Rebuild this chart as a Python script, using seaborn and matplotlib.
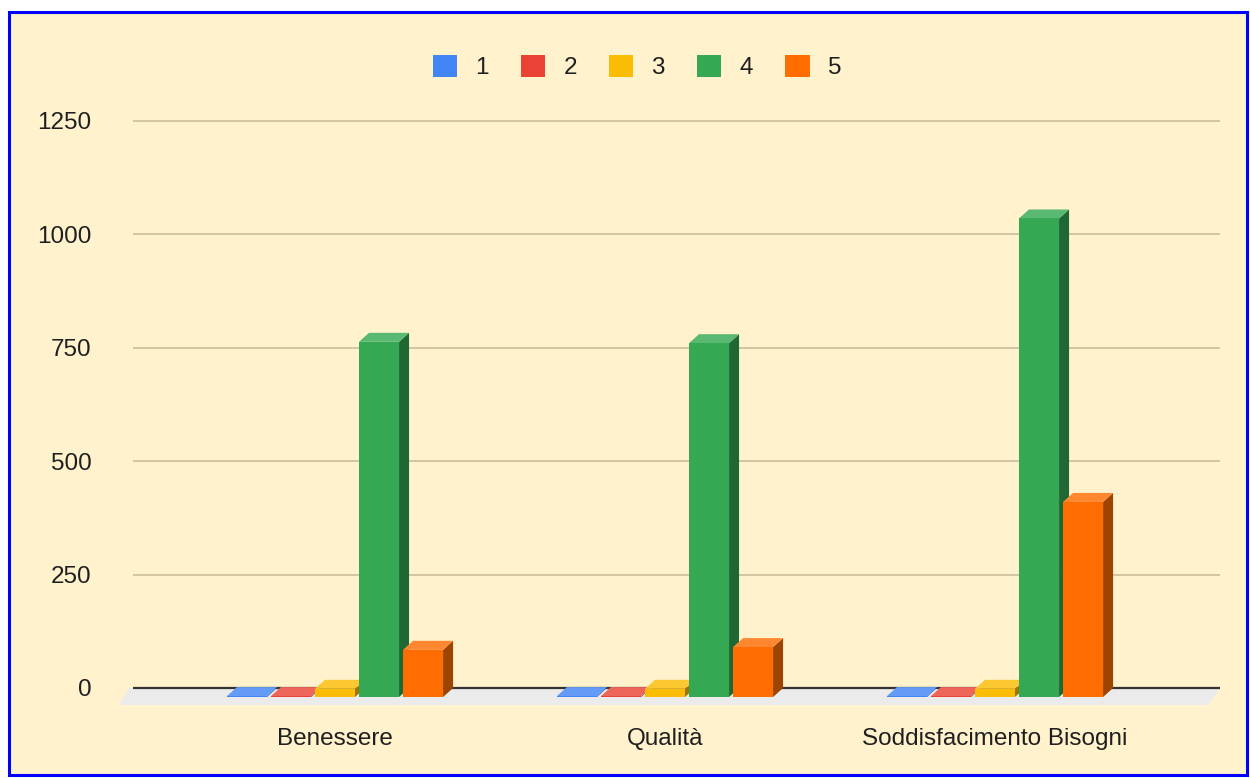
import numpy as np
import pandas as pd
import matplotlib
matplotlib.use("Agg")
import matplotlib.pyplot as plt
import seaborn as sns
from matplotlib.patches import Polygon, Rectangle, Patch
from matplotlib.transforms import ScaledTranslation, IdentityTransform
from matplotlib.colors import to_rgb

# ---------------- data ----------------
categories = ["Benessere", "Qualità", "Soddisfacimento Bisogni"]
series = ["1", "2", "3", "4", "5"]
values_1 = [2, 2, 2]
values_2 = [2, 2, 2]
values_3 = [18, 18, 18]
values_4 = [783, 780, 1055]
values_5 = [104, 110, 430]
yticks = [0, 250, 500, 750, 1000, 1250]
colors = ["#4285F4", "#EA4335", "#FBBC04", "#34A853", "#FF6D01"]

all_vals = [values_1, values_2, values_3, values_4, values_5]
rows = []
for s, vals in zip(series, all_vals):
    for c, v in zip(categories, vals):
        rows.append({"categoria": c, "voto": s, "valore": v})
df = pd.DataFrame(rows)

# ---------------- style ----------------
sns.set_style("white")
plt.rcParams["font.family"] = ["Liberation Sans", "DejaVu Sans"]
BG = "#FFF2CC"
TXT = "#1F1F1F"
FS = 17.5

W, H = 1250, 778
fig = plt.figure(figsize=(W / 100, H / 100), dpi=100, facecolor="white")

# cream panel with blue frame
fig.patches.append(Rectangle((9 / W, 3 / H), 1238 / W, 763 / H, transform=fig.transFigure,
                             facecolor=BG, edgecolor="#0000FF", linewidth=2.2, zorder=-5))

# axes geometry (pixels from top)
px_per_unit = 567 / 1250.0
ylo, yhi = -40, 1262
ax_top_px = 121 - (yhi - 1250) * px_per_unit
ax_bot_px = 688 + (0 - ylo) * px_per_unit
ax_left_px, ax_right_px = 133, 1220
ax = fig.add_axes([ax_left_px / W, 1 - ax_bot_px / H,
                   (ax_right_px - ax_left_px) / W, (ax_bot_px - ax_top_px) / H])
ax.set_facecolor("none")
ax.set_zorder(2)

sns.barplot(data=df, x="categoria", y="valore", hue="voto", order=categories,
            hue_order=series, palette=colors, width=0.667, gap=0.09,
            saturation=1, legend=False, ax=ax, linewidth=0, errorbar=None)

unit_px = 330.0
xl0 = -0.5 - (180 - ax_left_px) / unit_px
xl1 = xl0 + (ax_right_px - ax_left_px) / unit_px
ax.set_xlim(xl0, xl1)
ax.set_ylim(ylo, yhi)
ax.set_yticks(yticks)
ax.set_yticklabels([str(t) for t in yticks])
ax.set_xlabel("")
ax.set_ylabel("")
for sp in ax.spines.values():
    sp.set_visible(False)
ax.tick_params(axis="both", length=0, labelsize=FS, colors=TXT)
ax.tick_params(axis="y", pad=30)
ax.tick_params(axis="x", pad=16)

# gridlines on the back plane
for t in yticks:
    if t == 0:
        ax.axhline(t, color="#333333", lw=1.6, zorder=2)
    else:
        ax.axhline(t, color="#CFC2A0", lw=1.3, zorder=1)

fig.canvas.draw()

D, E = 10.0, 9.0   # depth offsets (px)
front_shift = ScaledTranslation(-D / 100, -E / 100, fig.dpi_scale_trans)

# floor
(fx_l, fy0) = ax.transData.transform((xl0, 0))
(fx_r, _) = ax.transData.transform((xl1, 0))
floor = Polygon([(fx_l - 4, fy0), (fx_r, fy0), (fx_r - 12, fy0 - 17), (fx_l - 14, fy0 - 17)],
                closed=True, transform=IdentityTransform(), facecolor="#EBEBEB",
                edgecolor="none", zorder=1.5, clip_on=False)
ax.add_artist(floor)

def shade(c, f):
    c = np.array(to_rgb(c))
    return tuple(np.clip(c * f, 0, 1))

def tint(c, f):
    c = np.array(to_rgb(c))
    return tuple(c + (1 - c) * f)

bars = sorted([p for p in ax.patches if isinstance(p, Rectangle)], key=lambda p: p.get_x())
for i, p in enumerate(bars):
    x, w, h = p.get_x(), p.get_width(), p.get_height()
    fc = p.get_facecolor()
    bx0, by0 = ax.transData.transform((x, 0))
    bx1, by1 = ax.transData.transform((x + w, h))
    fx0, fx1 = bx0 - D, bx1 - D
    fy0b, fy1 = by0 - E, by1 - E
    z = 3 + i * 0.01
    top = Polygon([(fx0, fy1), (fx1, fy1), (bx1, by1), (bx0, by1)], closed=True,
                  transform=IdentityTransform(), facecolor=tint(fc, 0.18),
                  edgecolor="none", zorder=z + 0.001, clip_on=False)
    side = Polygon([(fx1, fy1), (bx1, by1), (bx1, by0), (fx1, fy0b)], closed=True,
                   transform=IdentityTransform(), facecolor=shade(fc, 0.62),
                   edgecolor="none", zorder=z, clip_on=False)
    ax.add_artist(side)
    ax.add_artist(top)
    p.set_transform(ax.transData + front_shift)
    p.set_zorder(z + 0.002)
    p.set_clip_on(False)

ax.set_xlim(xl0, xl1)
ax.set_ylim(ylo, yhi)

# x tick labels aligned with bar fronts
for lab in ax.get_xticklabels():
    lab.set_transform(lab.get_transform() + ScaledTranslation(-D / 100, 0, fig.dpi_scale_trans))

# legend
handles = [Patch(facecolor=c, edgecolor="none", label=s) for s, c in zip(series, colors)]
leg = fig.legend(handles=handles, loc="center", bbox_to_anchor=(637 / W, 1 - 67 / H),
                 ncol=5, frameon=False, fontsize=FS, handlelength=1.0, handleheight=1.0,
                 handletextpad=0.75, columnspacing=1.32, labelcolor=TXT)

fig.savefig("out.png", dpi=100, facecolor="white")
